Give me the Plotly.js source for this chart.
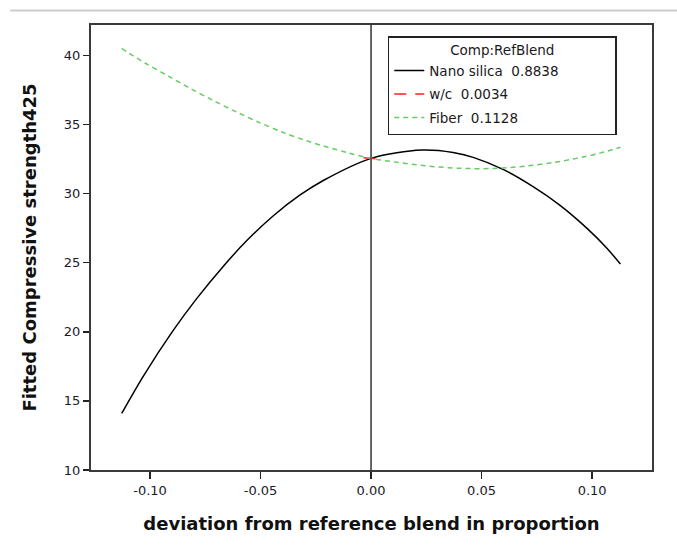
<!DOCTYPE html>
<html>
<head>
<meta charset="utf-8">
<script src="https://cdn.plot.ly/plotly-3.0.1.min.js"></script>
<style>html,body{margin:0;padding:0;background:#fff;}</style>
</head>
<body>
<div id="chart" style="width:677px;height:556px;"></div>
<script>
// Data
const xNano = [-0.1128, -0.1030, -0.0895, -0.0789, -0.0668, -0.0562, -0.0442, -0.0321, -0.0216, 0.0,
               0.0229, 0.0371, 0.0462, 0.0597, 0.0733, 0.0855, 0.0976, 0.1067, 0.1128];
const nanoSilica = [14.1, 16.8, 20.1, 22.4, 24.75, 26.6, 28.4, 29.9, 30.95, 32.55,
                    33.15, 32.98, 32.62, 31.75, 30.5, 29.15, 27.5, 26.05, 24.9];
const xFiber = [-0.1128, -0.1023, -0.0917, -0.0819, -0.0714, -0.0608, -0.0502, -0.0397, -0.0291, -0.0216,
                -0.0110, 0.0, 0.0101, 0.0252, 0.0403, 0.0553, 0.0705, 0.0825, 0.0946, 0.1036, 0.1128];
const fiber = [40.5, 39.45, 38.5, 37.62, 36.74, 35.9, 35.12, 34.42, 33.82, 33.45,
               32.98, 32.55, 32.3, 32.0, 31.83, 31.82, 32.0, 32.25, 32.6, 32.93, 33.35];
const xWC = [-0.0034, 0.0, 0.0034];
const wc = [32.6, 32.55, 32.5];
const legendTitle = "Comp:RefBlend";
const names = ["Nano silica\u00a0\u00a00.8838", "w/c\u00a0\u00a00.0034", "Fiber\u00a0\u00a00.1128"];
const xTicks = [-0.10, -0.05, 0.00, 0.05, 0.10];
const xTickText = ["-0.10", "-0.05", "0.00", "0.05", "0.10"];
const yTicks = [10, 15, 20, 25, 30, 35, 40];

const pad = "\u00a0".repeat(12);
const traces = [
  {x: xNano, y: nanoSilica, name: names[0] + pad, mode: "lines", legendgroup: "a",
   line: {color: "#000000", width: 1.5, shape: "spline", smoothing: 0.9}},
  {x: xWC, y: wc, name: names[1], mode: "lines", legendgroup: "b",
   line: {color: "#ff2020", width: 1.5, dash: "12px,9px"}},
  {x: xFiber, y: fiber, name: names[2], mode: "lines", legendgroup: "c",
   line: {color: "#66cc66", width: 1.5, dash: "5px,4px", shape: "spline", smoothing: 0.9}}
];

const font = "Tahoma, 'DejaVu Sans', sans-serif";
const layout = {
  width: 677, height: 556,
  margin: {l: 91, r: 25, t: 25, b: 86},
  paper_bgcolor: "#ffffff", plot_bgcolor: "#ffffff",
  font: {family: font, size: 13, color: "#1a1a2a"},
  showlegend: true,
  legend: {
    x: 0.529, y: 0.975, xanchor: "left", yanchor: "top",
    bordercolor: "#222", borderwidth: 1.5, bgcolor: "#ffffff",
    font: {family: font, size: 13.5, color: "#1a1a1a"},
    title: {text: legendTitle, side: "top center", font: {family: font, size: 13.5, color: "#1a1a1a"}},
    tracegroupgap: 3,
    traceorder: "grouped"
  },
  xaxis: {
    range: [-0.1267, 0.1271],
    tickvals: xTicks, ticktext: xTickText,
    ticks: "outside", ticklen: 7, tickwidth: 1.5, tickcolor: "#222",
    showline: true, mirror: true, linecolor: "#3a3a3a", linewidth: 2,
    showgrid: false, zeroline: false,
    tickfont: {family: font, size: 13, color: "#1a1a2a"},
    title: {text: "<b>deviation from reference blend in proportion</b>",
            font: {family: font, size: 18, color: "#111"}, standoff: 21}
  },
  yaxis: {
    range: [10, 42.2],
    tickvals: yTicks,
    ticks: "outside", ticklen: 6, tickwidth: 1.5, tickcolor: "#222",
    showline: true, mirror: true, linecolor: "#3a3a3a", linewidth: 2,
    showgrid: false, zeroline: false,
    tickfont: {family: font, size: 13, color: "#1a1a2a"},
    title: {text: "<b>Fitted Compressive strength425</b>",
            font: {family: font, size: 18, color: "#111"}, standoff: 23}
  },
  shapes: [
    {type: "line", xref: "x", yref: "paper", x0: 0, x1: 0, y0: 0, y1: 1,
     line: {color: "#555", width: 1.8}},
    {type: "line", xref: "paper", yref: "paper", x0: -0.144, x1: 1.045, y0: 1.0326, y1: 1.0326,
     line: {color: "#cccccc", width: 2}}
  ]
};

Plotly.newPlot("chart", traces, layout, {displayModeBar: false, staticPlot: true});
</script>
</body>
</html>
